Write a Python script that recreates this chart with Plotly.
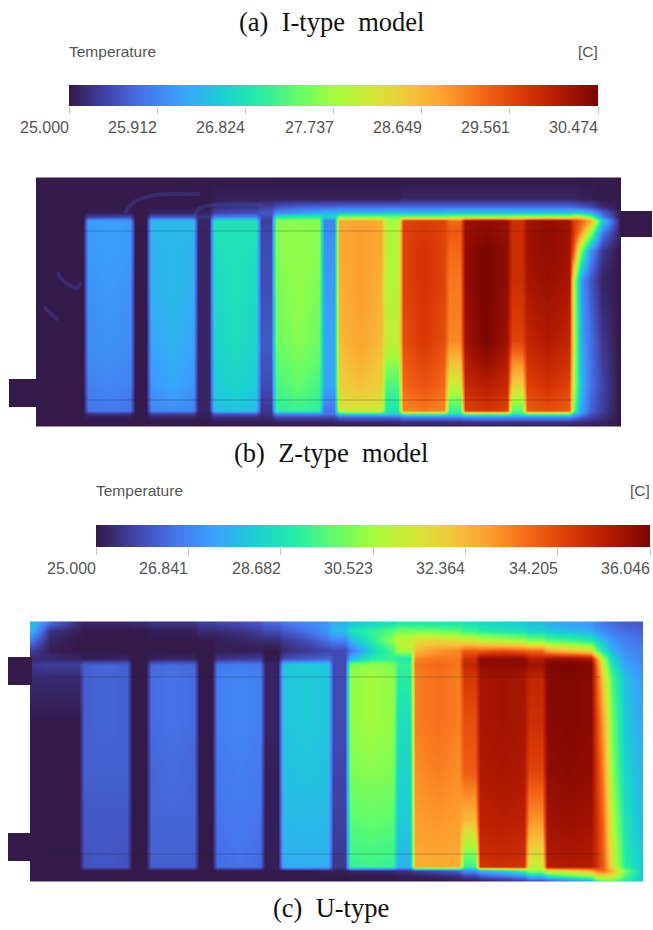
import numpy as np
import plotly.graph_objects as go

# ---- colour bars
a_ticks = [25.000, 25.912, 26.824, 27.737, 28.649, 29.561, 30.474]
b_ticks = [25.000, 26.841, 28.682, 30.523, 32.364, 34.205, 36.046]
turbo = ["#34194b", "#4145ab", "#4675ed", "#39a2fc", "#1bcfd4", "#24eca6", "#61fc6c", "#a4fc3b",
         "#d1e834", "#f3c63a", "#fe9b2d", "#f36315", "#d93806", "#b11901", "#7a0402"]
colorscale = [[i / (len(turbo) - 1), c] for i, c in enumerate(turbo)]

# ---- field (a): readings as percent of the colour bar span
a_cell_left = [85, 148, 211, 273, 336, 400, 462, 524]
a_cell_right = [133, 196, 259, 322, 384, 447, 510, 572]
a_lead_x = [37.5]
a_tail_x = [581, 590, 602, 619]
a_y = [179, 198, 206, 212, 216, 220, 232, 250, 280, 340, 385, 410, 413, 416, 421, 425]
# lead, g0 | c1 | g1 | c2 | g2 | c3 | g3 | c4 | g4 | c5 | g5 | c6 | g6 | c7 | g7 | c8 | tail
a_pct = [
 [0,0, 0,0,0, 0, 0,0,0, 0, 0,0,0, 0, 0,0,0, 0, 0,0,0, 0, 0,0,0, 0, 0,0,0, 0, 0,0,0, 0,0,0,0,0],
 [0,0, 0,0,0, 0, 0,0,0, 0, 1,1,1, 1, 1,1,1, 1, 1,1,1, 1, 2,2,2, 2, 2,2,2, 2, 2,2,2, 2,1,1,0,0],
 [0,0, 0,0,0, 0, 0,0,0, 0, 3,4,4, 6, 9,11,12, 12, 13,13,13, 13, 13,13,13, 13, 13,13,13, 13, 13,13,13, 12,10,8,3,0],
 [0,0, 1,1,1, 0, 2,2,2, 2, 7,8,8, 10, 18,20,22, 24, 26,26,26, 28, 26,26,26, 28, 28,28,28, 28, 28,28,28, 30,28,24,12,1],
 [0,0, 6,7,7, 0, 9,9,9, 4, 15,16,16, 8, 34,36,36, 30, 45,45,45, 44, 46,46,46, 48, 48,48,48, 50, 50,50,50, 60,55,45,16,1],
 [0,0, 20,21,20, 0, 25,25,25, 2, 33,33,33, 6, 47,47,47, 16, 68,70,68, 50, 84,85,84, 78, 96,97,96, 88, 95,97,95, 85,80,70,30,2],
 [0,0, 20,21,20, 0, 25,25,25, 2, 33,33,33, 7, 47,48,47, 18, 69,71,69, 52, 84,86,84, 80, 96,98,96, 88, 95,97,95, 85,72,50,15,2],
 [0,0, 20,21,20, 0, 24,25,24, 2, 32,33,32, 8, 47,48,47, 19, 69,71,69, 52, 84,87,84, 78, 97,100,97, 88, 95,97,95, 78,45,20,5,0],
 [0,0, 19,20,19, 0, 24,25,24, 2, 31,33,31, 8, 46,48,46, 20, 68,71,68, 52, 84,87,84, 76, 97,100,97, 88, 94,96,94, 50,20,10,2,0],
 [0,0, 18,19,18, 0, 22,24,22, 2, 30,32,30, 10, 44,47,44, 22, 66,70,66, 55, 82,86,82, 74, 95,100,95, 84, 90,93,90, 52,22,14,5,0],
 [0,0, 16,17,16, 0, 20,22,20, 2, 28,30,28, 8, 40,43,40, 22, 62,65,62, 40, 78,81,78, 55, 89,92,89, 62, 84,87,84, 50,25,14,7,0],
 [0,0, 14,15,14, 0, 17,18,17, 2, 26,27,26, 5, 37,38,37, 14, 57,58,57, 34, 74,76,74, 38, 84,86,84, 42, 80,82,80, 42,22,12,6,0],
 [0,0, 4,5,4, 0, 6,6,6, 1, 10,10,10, 4, 18,18,18, 14, 32,32,32, 30, 42,42,42, 34, 46,46,46, 36, 44,44,44, 28,18,10,5,0],
 [0,0, 1,1,1, 0, 2,2,2, 1, 4,4,4, 3, 8,8,8, 8, 13,13,13, 14, 18,18,18, 18, 20,20,20, 20, 20,20,20, 16,11,7,4,0],
 [0,0, 0,0,0, 0, 0,0,0, 0, 1,1,1, 1, 2,2,2, 2, 3,3,3, 3, 4,4,4, 4, 5,5,5, 5, 5,5,5, 4,4,3,2,0],
 [0,0, 0,0,0, 0, 0,0,0, 0, 0,0,0, 0, 0,0,0, 0, 0,0,0, 0, 1,1,1, 1, 1,1,1, 1, 1,1,1, 1,1,1,1,0],
]
# faint flow wisps in the cold part of field (a)
a_wisps = [
    ([125, 133, 150, 200], [213, 203, 196, 194]),
    ([194, 200, 212, 262], [216, 208, 205, 205]),
    ([58, 60, 66, 77, 80], [272, 277, 283, 288, 282]),
    ([44, 58], [307, 320]),
]

# ---- field (c): readings as percent of the colour bar span
b_cell_left = [81, 148, 214, 280, 347, 412, 477, 544]
b_cell_right = [130, 197, 263, 331, 396, 462, 527, 594]
b_lead_x = [31.5, 50]
b_tail_x = [603, 612, 625, 641]
b_y = [623, 630, 640, 650, 658, 664, 677, 720, 770, 820, 866, 870, 876, 880]
# lead x2, g0 | c1 | g1 | c2 | g2 | c3 | g3 | c4 | g4 | c5 | g5 | c6 | g6 | c7 | g7 | c8 | tail
b_pct = [
 [26,12,3, 2,2,2, 3, 4,4,4, 6, 7,8,10, 12, 14,17,20, 24, 27,30,33, 35, 35,35,34, 33, 31,30,28, 26, 24,22,20, 17,15,13,11,10],
 [24,4,1, 0,0,0, 0, 1,1,1, 3, 3,4,6, 8, 10,14,20, 26, 33,38,42, 45, 45,44,42, 38, 36,34,32, 30, 27,25,23, 20,18,15,13,12],
 [14,2,0, 0,0,0, 0, 0,0,0, 0, 1,2,3, 3, 5,8,14, 16, 24,36,48, 55, 60,62,60, 58, 55,52,50, 46, 42,40,36, 30,25,20,16,14],
 [6,1,0, 0,0,0, 0, 0,0,0, 0, 1,1,1, 0, 3,5,7, 8, 14,30,40, 50, 66,72,74, 80, 80,82,80, 78, 70,65,60, 44,33,24,18,16],
 [3,3,2, 1,1,2, 0, 1,2,2, 0, 4,5,6, 0, 8,10,12, 8, 24,36,38, 34, 74,76,76, 88, 98,98,98, 92, 96,96,94, 75,50,30,20,17],
 [5,6,6, 11,12,11, 0, 12,13,12, 0, 15,16,15, 2, 27,28,27, 8, 46,48,46, 38, 76,78,76, 90, 97,97,97, 95, 99,100,99, 80,55,33,22,18],
 [3,3,3, 11,12,11, 0, 13,14,13, 0, 16,17,16, 2, 27,28,27, 8, 48,50,48, 36, 75,77,75, 86, 94,95,94, 90, 98,99,98, 82,62,40,26,20],
 [0,0,0, 11,12,11, 0, 13,14,13, 0, 16,17,16, 2, 27,28,27, 8, 48,50,48, 32, 75,77,75, 82, 94,95,94, 88, 98,99,98, 85,70,44,28,22],
 [0,0,0, 11,11,11, 0, 12,13,12, 0, 15,16,15, 1, 26,27,26, 7, 46,47,46, 30, 73,75,73, 80, 93,94,93, 84, 97,98,97, 87,74,47,30,24],
 [0,0,0, 10,10,10, 0, 12,12,12, 0, 14,15,14, 1, 25,25,25, 6, 42,43,42, 28, 71,72,71, 66, 91,92,91, 72, 95,96,95, 88,78,52,33,26],
 [0,0,0, 9,10,9, 0, 11,11,11, 0, 13,14,13, 1, 23,24,23, 5, 38,39,38, 24, 68,69,68, 38, 87,88,87, 55, 92,93,92, 88,80,58,36,28],
 [0,0,0, 0,0,0, 0, 0,0,0, 0, 0,0,0, 0, 0,0,1, 1, 2,2,3, 4, 6,8,12, 18, 24,30,40, 48, 58,62,68, 75,78,68,45,30],
 [0,0,0, 0,0,0, 0, 0,0,0, 0, 0,0,0, 0, 0,0,0, 0, 0,0,0, 1, 1,2,3, 6, 9,12,17, 24, 30,38,44, 55,58,55,40,28],
 [0,0,0, 0,0,0, 0, 0,0,0, 0, 0,0,0, 0, 0,0,0, 0, 0,0,0, 0, 0,0,1, 1, 2,4,6, 9, 12,18,24, 38,42,45,35,27],
]

# ---- inlet and outlet stubs (at the coolant inlet temperature)
stub_temperature = 25.0
a_stubs = [(9, 37, 379, 407), (620, 652, 211, 237)]
b_stubs = [(8, 32, 657, 685), (8, 32, 833, 861)]
# faint section lines
a_section_rows = [231, 400]
a_section_span = (85, 572)
b_section_rows = [677, 854]
b_section_span = (50, 600)

captions = [("(a)\u00a0\u00a0I-type\u00a0\u00a0model", 331, 22), ("(b)\u00a0\u00a0Z-type\u00a0\u00a0model", 331, 453), ("(c)\u00a0\u00a0U-type", 331, 908)]


def field(cell_left, cell_right, lead_x, tail_x, ys, pct, tmax):
    xs = list(lead_x)
    for l, r in zip(cell_left, cell_right):
        xs += [l - 2, l + 3, (l + r) / 2, r - 3, r + 2]
    xs += list(tail_x)
    nl = len(lead_x)
    z = []
    for row in pct:
        vals = list(row[:nl])
        i = nl
        for k in range(8):
            vals.append(row[i])
            vals += row[i + 1:i + 4]
            vals.append(row[i + 4])
            i += 4
        vals += row[i + 1:]
        z.append(vals)
    z = np.array(z, dtype=float)
    x = np.array(xs, dtype=float)
    y = np.array(ys, dtype=float)
    # hold the outer rows and columns right up to the panel edge
    z = np.pad(z, 1, mode="edge")
    x = np.concatenate([[x[0] - 1], x, [x[-1] + 1]])
    y = np.concatenate([[y[0] - 1], y, [y[-1] + 1]])
    return x, y, 25 + z / 100 * (tmax - 25)


fig = go.Figure()

for cell_l, cell_r, lead, tail, ys, pct, ticks in [
    (a_cell_left, a_cell_right, a_lead_x, a_tail_x, a_y, a_pct, a_ticks),
    (b_cell_left, b_cell_right, b_lead_x, b_tail_x, b_y, b_pct, b_ticks),
]:
    x, y, z = field(cell_l, cell_r, lead, tail, ys, pct, ticks[-1])
    fig.add_trace(go.Heatmap(x=x, y=y, z=z, zsmooth="best", zmin=ticks[0], zmax=ticks[-1],
                             colorscale=colorscale, showscale=False, hoverinfo="skip"))

for stubs, ticks in [(a_stubs, a_ticks), (b_stubs, b_ticks)]:
    for x0, x1, y0, y1 in stubs:
        fig.add_trace(go.Heatmap(x=[x0, x1], y=[y0, y1], z=[[stub_temperature]], zmin=ticks[0], zmax=ticks[-1],
                                 colorscale=colorscale, showscale=False, hoverinfo="skip"))

for wx, wy in a_wisps:
    fig.add_trace(go.Scatter(x=wx, y=wy, mode="lines", hoverinfo="skip", showlegend=False,
                             line=dict(color="rgba(70,85,190,0.3)", width=4, shape="spline")))

for rows, span in [(a_section_rows, a_section_span), (b_section_rows, b_section_span)]:
    for r in rows:
        fig.add_trace(go.Scatter(x=list(span), y=[r, r], mode="lines", hoverinfo="skip", showlegend=False,
                                 line=dict(color="rgba(30,30,40,0.25)", width=1)))

# colour bars on their own temperature axes
fig.add_trace(go.Heatmap(x=a_ticks, y=[0, 1], z=[a_ticks, a_ticks], xaxis="x2", yaxis="y2", zsmooth="best",
                         zmin=a_ticks[0], zmax=a_ticks[-1], colorscale=colorscale, showscale=False, hoverinfo="skip"))
fig.add_trace(go.Heatmap(x=b_ticks, y=[0, 1], z=[b_ticks, b_ticks], xaxis="x3", yaxis="y3", zsmooth="best",
                         zmin=b_ticks[0], zmax=b_ticks[-1], colorscale=colorscale, showscale=False, hoverinfo="skip"))

W, H = 653, 930


def bar_x(x0, x1, ticks):
    return dict(domain=[x0 / W, x1 / W], range=[ticks[0], ticks[-1]], tickvals=ticks, ticks="outside", ticklen=7,
                tickcolor="#c4c4c4", tickwidth=1, showticklabels=False, showgrid=False, zeroline=False, fixedrange=True,
                showline=False)


def bar_y(y0, y1):
    return dict(domain=[1 - y1 / H, 1 - y0 / H], range=[0, 1], visible=False, fixedrange=True)


fig.update_layout(
    width=W, height=H, margin=dict(l=0, r=0, t=0, b=0), paper_bgcolor="white", plot_bgcolor="rgba(0,0,0,0)",
    showlegend=False,
    xaxis=dict(domain=[0, 1], range=[0, W], visible=False, fixedrange=True),
    yaxis=dict(domain=[0, 1], range=[H, 0], visible=False, fixedrange=True),
    xaxis2=dict(anchor="y2", **bar_x(69, 598, a_ticks)),
    yaxis2=dict(anchor="x2", **bar_y(85, 106)),
    xaxis3=dict(anchor="y3", **bar_x(96, 650, b_ticks)),
    yaxis3=dict(anchor="x3", **bar_y(525, 547)),
)

sans = dict(family="Liberation Sans", size=16, color="#555555")
serif = dict(family="Liberation Serif", size=26.5, color="#111111")
ann = []
for text, x, y in captions:
    ann.append(dict(text=text, x=x, y=y, xref="x", yref="y", showarrow=False, font=serif, xanchor="center", yanchor="middle"))
for ticks, ax, ly in [(a_ticks, "x2", 127), (b_ticks, "x3", 568)]:
    for t in ticks:
        ann.append(dict(text=f"{t:.3f}", x=t, y=ly, xref=ax, yref="y", showarrow=False, font=sans, xanchor="right",
                        yanchor="middle", xshift=2))
for x0, x1, ly in [(69, 598, 51), (96, 650, 490)]:
    ann.append(dict(text="Temperature", x=x0, y=ly, xref="x", yref="y", showarrow=False, font=dict(sans, size=15.5), xanchor="left", yanchor="middle", xshift=-2))
    ann.append(dict(text="[C]", x=x1, y=ly, xref="x", yref="y", showarrow=False, font=dict(sans, size=15.5), xanchor="right", yanchor="middle", xshift=2))
fig.update_layout(annotations=ann)

fig.write_html("out.html", config=dict(displayModeBar=False),
               post_script="document.body.style.margin='0';document.body.style.overflow='hidden';")
